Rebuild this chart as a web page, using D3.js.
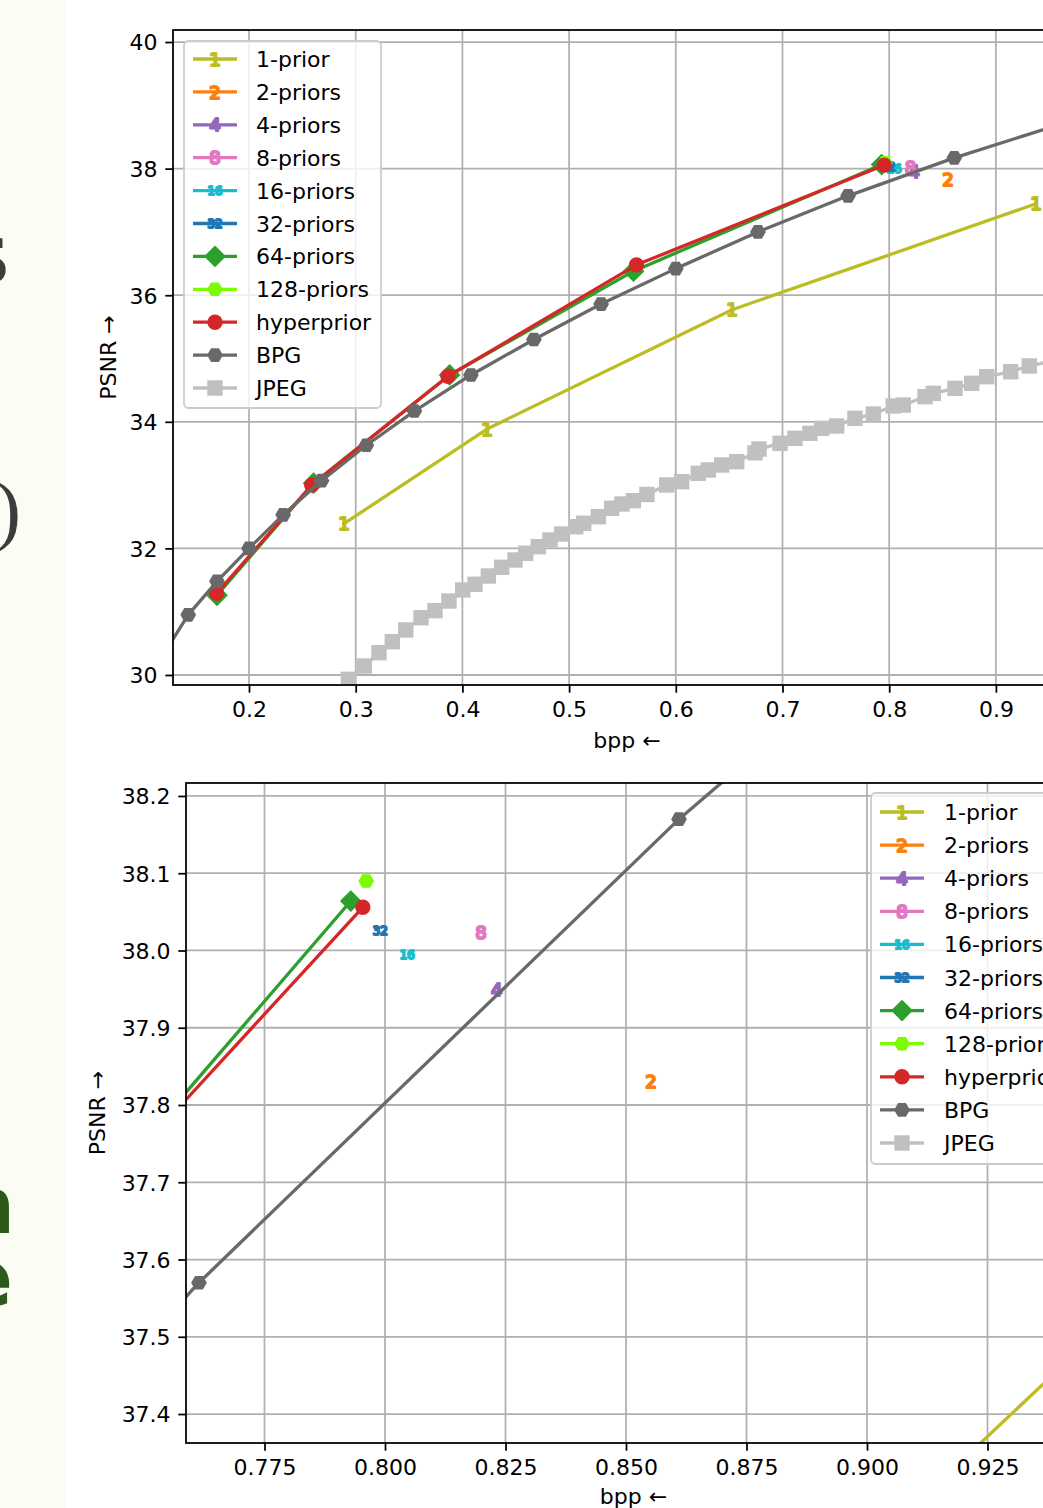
<!DOCTYPE html>
<html><head><meta charset="utf-8">
<script src="https://cdn.jsdelivr.net/npm/d3@7"></script>
<style>
body{margin:0;background:#fff;}
svg{display:block;font-family:"DejaVu Sans",sans-serif;}
</style>
</head><body>
<svg id="c" width="1043" height="1508"></svg>
<script>
// ---------------- DATA ----------------
const seriesNames = ["1-prior","2-priors","4-priors","8-priors","16-priors","32-priors","64-priors","128-priors","hyperprior","BPG","JPEG"];
const seriesColors = ["#bcbd22","#ff7f0e","#9467bd","#e377c2","#17becf","#1f77b4","#2ca02c","#7cfc00","#d62728","#696969","#c0c0c0"];
const seriesMarkers = ["1","2","4","8","16","32","D","H","o","H","s"];

const prior1X = [0.289, 0.423, 0.6527, 0.9376];
const prior1Y = [32.39, 33.886, 35.77, 37.445];
const prior2X = [0.8552];   const prior2Y = [37.831];
const prior4X = [0.8232];   const prior4Y = [37.949];
const prior8X = [0.8199];   const prior8Y = [38.023];
const prior16X = [0.8046];  const prior16Y = [37.994];
const prior32X = [0.799];   const prior32Y = [38.025];
const prior64X = [0.1700, 0.2605, 0.388, 0.5604, 0.7929];
const prior64Y = [31.26, 33.03, 34.74, 36.38, 38.064];
const prior128X = [0.7961]; const prior128Y = [38.09];
const hyperX = [0.1697, 0.2588, 0.3865, 0.5632, 0.7954];
const hyperY = [31.29, 33.0, 34.72, 36.48, 38.056];
const bpgX = [0.12, 0.143, 0.170, 0.200, 0.232, 0.268, 0.310, 0.355, 0.408, 0.467, 0.530, 0.600, 0.677, 0.7614, 0.861, 0.975];
const bpgY = [30.33, 30.95, 31.48, 32.0, 32.53, 33.07, 33.63, 34.17, 34.74, 35.30, 35.86, 36.42, 37.0, 37.57, 38.17, 38.78];
const jpegX = [0.2931,0.3081,0.3218,0.3343,0.3469,0.3612,0.3743,0.3874,0.4003,0.4118,0.4243,0.4368,0.4493,0.4593,0.4711,0.4821,0.4931,0.5062,0.5137,0.5274,0.5399,0.5496,0.5602,0.5730,0.5915,0.6055,0.6211,0.6305,0.6430,0.6571,0.6742,0.6780,0.6977,0.7117,0.7257,0.7367,0.7508,0.7679,0.7851,0.8038,0.8132,0.8336,0.8413,0.8617,0.8773,0.8914,0.9139,0.9313,0.955];
const jpegY = [29.932,30.142,30.352,30.526,30.711,30.905,31.016,31.169,31.343,31.433,31.564,31.701,31.817,31.923,32.027,32.133,32.227,32.343,32.397,32.501,32.634,32.701,32.754,32.852,33.002,33.054,33.186,33.239,33.318,33.370,33.51,33.57,33.660,33.739,33.818,33.897,33.934,34.055,34.123,34.250,34.265,34.397,34.450,34.529,34.608,34.713,34.791,34.882,34.97];

const seriesX = [prior1X,prior2X,prior4X,prior8X,prior16X,prior32X,prior64X,prior128X,hyperX,bpgX,jpegX];
const seriesY = [prior1Y,prior2Y,prior4Y,prior8Y,prior16Y,prior32Y,prior64Y,prior128Y,hyperY,bpgY,jpegY];

const topXTicks = [0.2,0.3,0.4,0.5,0.6,0.7,0.8,0.9];
const topYTicks = [30,32,34,36,38,40];
const botXTicks = [0.775,0.800,0.825,0.850,0.875,0.900,0.925];
const botYTicks = [37.4,37.5,37.6,37.7,37.8,37.9,38.0,38.1,38.2];

// ---------------- DRAW ----------------
const svg = d3.select("#c");
const S = 2.2; // px per pt
const FS = 22;
const LW = 1.5*S, MS = 6*S, MEW = 1.0*S;

// left decorative strip
svg.append("rect").attr("x",0).attr("y",0).attr("width",66).attr("height",1508).attr("fill","#fbfcf4");
svg.append("text").attr("x",9).attr("y",282).attr("text-anchor","end")
  .attr("font-family","'Liberation Serif',serif").attr("font-size",96).attr("fill","#3a3d3a").text("s");
svg.append("text").attr("x",21).attr("y",536).attr("text-anchor","end")
  .attr("font-family","'Liberation Serif',serif").attr("font-size",78).attr("fill","#3a3d3a").text(")");
svg.append("text").attr("x",15).attr("y",1233).attr("text-anchor","end")
  .attr("font-family","'DejaVu Sans',sans-serif").attr("font-weight","bold").attr("font-size",78).attr("fill","#2b5a1a").text("n");
svg.append("text").attr("x",13).attr("y",1306).attr("text-anchor","end")
  .attr("font-family","'DejaVu Sans',sans-serif").attr("font-weight","bold").attr("font-size",80).attr("fill","#2b5a1a").text("e");

function drawMarker(g, type, cx, cy, color) {
  if (type === "o") {
    g.append("circle").attr("cx",cx).attr("cy",cy).attr("r",MS/2)
      .attr("fill",color).attr("stroke",color).attr("stroke-width",MEW);
  } else if (type === "s") {
    g.append("rect").attr("x",cx-MS/2).attr("y",cy-MS/2).attr("width",MS).attr("height",MS)
      .attr("fill",color).attr("stroke",color).attr("stroke-width",MEW);
  } else if (type === "D") {
    const h = MS*Math.SQRT1_2;
    g.append("path").attr("d",`M${cx},${cy-h}L${cx+h},${cy}L${cx},${cy+h}L${cx-h},${cy}Z`)
      .attr("fill",color).attr("stroke",color).attr("stroke-width",MEW).attr("stroke-linejoin","miter");
  } else if (type === "H") {
    const r = MS/2; let d = "";
    for (let k=0;k<6;k++){ const a = Math.PI/3*k; d += (k?"L":"M")+(cx+r*Math.cos(a))+","+(cy+r*Math.sin(a)); }
    g.append("path").attr("d",d+"Z").attr("fill",color).attr("stroke",color).attr("stroke-width",MEW);
  } else {
    // mathtext digit marker, max dimension = MS
    const fs = type.length === 1 ? MS/0.729 : MS/1.12;
    g.append("text").attr("x",cx).attr("y",cy+0.3645*fs).attr("text-anchor","middle")
      .attr("font-family","'DejaVu Sans',sans-serif").attr("font-size",fs)
      .attr("fill",color).attr("stroke",color).attr("stroke-width",MEW)
      .attr("stroke-linejoin","round").text(type);
  }
}

let clipId = 0;
function drawChart(cfg) {
  const x = d3.scaleLinear().domain(cfg.xDomain).range([cfg.left, cfg.right]);
  const y = d3.scaleLinear().domain(cfg.yDomain).range([cfg.bottom, cfg.top]);
  const g = svg.append("g");
  g.append("rect").attr("x",cfg.left).attr("y",cfg.top).attr("width",cfg.right-cfg.left)
    .attr("height",cfg.bottom-cfg.top).attr("fill","#fff");
  // grid
  const grid = g.append("g").attr("stroke","#b0b0b0").attr("stroke-width",0.8*S);
  cfg.xTicks.forEach(t => grid.append("line").attr("x1",x(t)).attr("x2",x(t)).attr("y1",cfg.top).attr("y2",cfg.bottom));
  cfg.yTicks.forEach(t => grid.append("line").attr("y1",y(t)).attr("y2",y(t)).attr("x1",cfg.left).attr("x2",cfg.right));

  // data
  const id = "clip"+(clipId++);
  svg.append("clipPath").attr("id",id).append("rect").attr("x",cfg.left).attr("y",cfg.top)
    .attr("width",cfg.right-cfg.left).attr("height",cfg.bottom-cfg.top);
  const dg = g.append("g").attr("clip-path",`url(#${id})`);
  const line = d3.line().x(d=>x(d[0])).y(d=>y(d[1]));
  seriesNames.forEach((name,i) => {
    const pts = seriesX[i].map((v,j)=>[v, seriesY[i][j]]);
    const sg = dg.append("g");
    if (pts.length > 1) {
      sg.append("path").attr("d",line(pts)).attr("fill","none").attr("stroke",seriesColors[i])
        .attr("stroke-width",LW).attr("stroke-linejoin","round").attr("stroke-linecap","square");
    }
    pts.forEach(p => drawMarker(sg, seriesMarkers[i], x(p[0]), y(p[1]), seriesColors[i]));
  });

  // axes with d3
  const xAxis = d3.axisBottom(x).tickValues(cfg.xTicks).tickFormat(d3.format(cfg.xFmt)).tickSize(3.5*S).tickPadding(3.5*S);
  const yAxis = d3.axisLeft(y).tickValues(cfg.yTicks).tickFormat(d3.format(cfg.yFmt)).tickSize(3.5*S).tickPadding(3.5*S);
  const ax = g.append("g").attr("transform",`translate(0,${cfg.bottom})`).call(xAxis);
  const ay = g.append("g").attr("transform",`translate(${cfg.left},0)`).call(yAxis);
  [ax, ay].forEach(a => {
    a.select(".domain").remove();
    a.selectAll(".tick line").attr("stroke","#000").attr("stroke-width",0.8*S);
    a.selectAll(".tick text").attr("fill","#000").attr("font-size",FS).attr("font-family","'DejaVu Sans',sans-serif");
  });
  ax.selectAll(".tick text").attr("dy","0.76em");
  ay.selectAll(".tick text").attr("dy","0.36em");
  // spines
  g.append("rect").attr("x",cfg.left).attr("y",cfg.top).attr("width",cfg.right-cfg.left)
    .attr("height",cfg.bottom-cfg.top).attr("fill","none").attr("stroke","#000").attr("stroke-width",0.8*S);
  // axis labels
  g.append("text").attr("x",(cfg.left+cfg.right)/2).attr("y",cfg.xLabelY).attr("text-anchor","middle")
    .attr("font-size",FS).attr("fill","#000").text("bpp \u2190");
  g.append("text").attr("transform",`translate(${cfg.yLabelX},${(cfg.top+cfg.bottom)/2}) rotate(-90)`)
    .attr("text-anchor","middle").attr("font-size",FS).attr("fill","#000").text("PSNR \u2192");

  // legend
  const L = cfg.legend;
  const lg = g.append("g");
  lg.append("rect").attr("x",L.x).attr("y",L.y).attr("width",L.w).attr("height",L.h).attr("rx",4.4)
    .attr("fill","#fff").attr("fill-opacity",0.8).attr("stroke","#cccccc").attr("stroke-width",0.8*S);
  seriesNames.forEach((name,i) => {
    const cy = L.row0 + L.dy*i;
    lg.append("line").attr("x1",L.hx).attr("x2",L.hx+2*FS).attr("y1",cy).attr("y2",cy)
      .attr("stroke",seriesColors[i]).attr("stroke-width",LW);
    drawMarker(lg, seriesMarkers[i], L.hx+FS, cy, seriesColors[i]);
    lg.append("text").attr("x",L.tx).attr("y",cy+8).attr("font-size",FS).attr("fill","#000").text(name);
  });
}

drawChart({
  left:173, right:1081, top:30, bottom:685,
  xDomain:[0.12877, 0.97976], yDomain:[29.842, 40.19],
  xTicks:topXTicks, yTicks:topYTicks, xFmt:".1f", yFmt:"d",
  xLabelY:748, yLabelX:116,
  legend:{x:184, y:41, w:197, h:367, row0:59, dy:32.9, hx:193, tx:256}
});
drawChart({
  left:186, right:1081, top:783, bottom:1443,
  xDomain:[0.75871, 0.94440], yDomain:[37.3625, 38.2168],
  xTicks:botXTicks, yTicks:botYTicks, xFmt:".3f", yFmt:".1f",
  xLabelY:1504, yLabelX:105,
  legend:{x:871, y:793, w:200, h:371, row0:812, dy:33.1, hx:880, tx:944}
});
</script>
</body></html>
